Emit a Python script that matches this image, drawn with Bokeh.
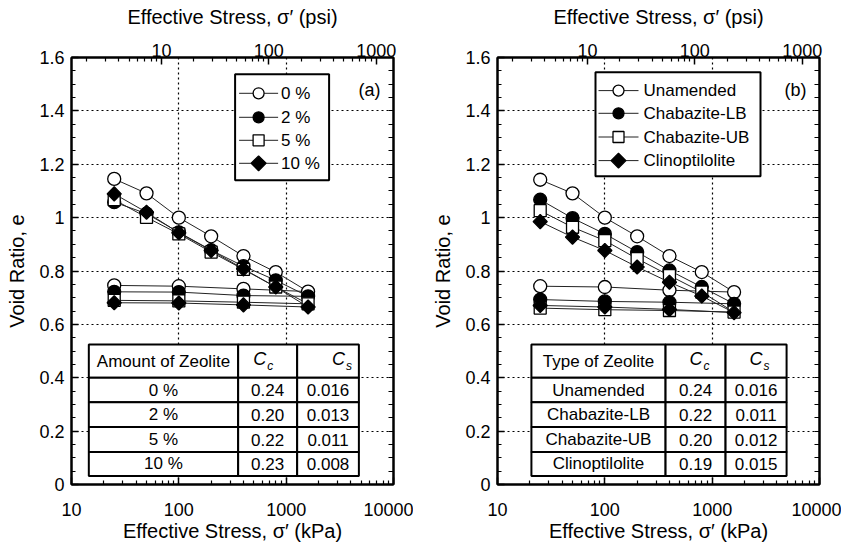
import numpy as np
from bokeh.plotting import figure
from bokeh.models import (Range1d, LogAxis, LinearAxis, LogScale, FixedTicker,
                          NumeralTickFormatter)
from bokeh.layouts import row
from bokeh.embed import file_html
from bokeh.resources import INLINE
from bokeh.core.properties import value

# ---------------- data ----------------
stress_kpa = [25, 50, 100, 200, 400, 800, 1600, 400, 100, 25]

zeolite_amounts = ["0 %", "2 %", "5 %", "10 %"]
e_0pct = [1.145, 1.091, 1.000, 0.930, 0.856, 0.796, 0.723, 0.733, 0.743, 0.746]
e_2pct = [1.058, 1.015, 0.945, 0.878, 0.818, 0.765, 0.705, 0.708, 0.721, 0.722]
e_5pct = [1.067, 1.001, 0.939, 0.871, 0.806, 0.740, 0.677, 0.683, 0.688, 0.690]
e_10pct = [1.089, 1.020, 0.943, 0.877, 0.808, 0.740, 0.665, 0.673, 0.680, 0.681]

zeolite_types = ["Unamended", "Chabazite-LB", "Chabazite-UB", "Clinoptilolite"]
e_unamended = [1.142, 1.091, 1.000, 0.930, 0.856, 0.796, 0.721, 0.728, 0.740, 0.743]
e_chab_lb = [1.067, 0.998, 0.939, 0.871, 0.802, 0.740, 0.677, 0.683, 0.686, 0.693]
e_chab_ub = [1.026, 0.964, 0.914, 0.846, 0.783, 0.721, 0.646, 0.652, 0.655, 0.661]
e_clino = [0.985, 0.927, 0.877, 0.815, 0.758, 0.706, 0.644, 0.656, 0.665, 0.671]

cc_amount = ["0.24", "0.20", "0.22", "0.23"]
cs_amount = ["0.016", "0.013", "0.011", "0.008"]
cc_type = ["0.24", "0.22", "0.20", "0.19"]
cs_type = ["0.016", "0.011", "0.012", "0.015"]

y_ticks = [0, 0.2, 0.4, 0.6, 0.8, 1.0, 1.2, 1.4, 1.6]
kpa_ticks = [10, 100, 1000, 10000]
psi_ticks = [10, 100, 1000]

# ---------------- style / layout ----------------
KPA_PER_PSI = 6.89476
FONT = "Liberation Sans"
FRAME_W = 322
FRAME_H = 427
DEC_PX = FRAME_W / 3.0        # frame pixels per decade
E_PER_PX = 1.6 / FRAME_H      # void ratio per frame pixel

styles = [
    dict(marker="circle", size=13, lsize=11, angle=0.0, fill="white"),
    dict(marker="circle", size=13, lsize=11, angle=0.0, fill="black"),
    dict(marker="square", size=12, lsize=11, angle=0.0, fill="white"),
    dict(marker="square", size=10, lsize=10.5, angle=np.pi / 4, fill="black"),
]
table_y = [0.525, 0.40, 0.308, 0.215, 0.122, 0.032]


def fx(dx):
    """frame pixel offset from left edge -> kPa"""
    return 10 ** (1 + dx / DEC_PX)


def fy(dy):
    """frame pixel offset from bottom edge -> void ratio"""
    return dy * E_PER_PX


def minor_log(lo, hi):
    out = []
    for d in range(-1, 5):
        for k in range(2, 10):
            v = k * 10.0 ** d
            if lo < v < hi:
                out.append(v)
    return out


def style_axis(ax):
    ax.axis_line_width = 2
    ax.axis_line_color = "black"
    ax.major_tick_in = 7
    ax.major_tick_out = 0
    ax.minor_tick_in = 4
    ax.minor_tick_out = 0
    ax.major_tick_line_width = 1.5
    ax.minor_tick_line_width = 1.2
    ax.major_tick_line_color = "black"
    ax.minor_tick_line_color = "black"
    ax.major_label_text_font = FONT
    ax.major_label_text_font_size = "18px"
    ax.major_label_text_color = "black"
    ax.axis_label_text_font = FONT
    ax.axis_label_text_font_size = "20px"
    ax.axis_label_text_font_style = "normal"
    ax.axis_label_text_color = "black"


def make_panel(width, border_left, border_right, labels, series, head, rows, cc, cs, tag,
               tx_edges, leg, c_offsets):
    p = figure(width=width, height=57 + FRAME_H + 60, x_axis_type="log",
               x_range=Range1d(10, 10000), y_range=Range1d(0, 1.6),
               output_backend="svg", toolbar_location=None,
               min_border_left=border_left, min_border_right=border_right,
               min_border_top=57, min_border_bottom=60,
               background_fill_color="white", border_fill_color="white")
    p.outline_line_color = "black"
    p.outline_line_width = 2
    p.extra_x_ranges = {"psi": Range1d(10 / KPA_PER_PSI, 10000 / KPA_PER_PSI)}
    p.extra_x_scales = {"psi": LogScale()}

    xa = p.below[0]
    ya = p.left[0]
    xa.ticker = FixedTicker(ticks=kpa_ticks, minor_ticks=minor_log(10, 10000))
    xa.formatter = NumeralTickFormatter(format="0")
    xa.axis_label = "Effective Stress, σ′ (kPa)"
    minor_e = [round(0.05 * i, 2) for i in range(33)]
    ya.ticker = FixedTicker(ticks=y_ticks, minor_ticks=minor_e)
    ya.formatter = NumeralTickFormatter(format="0.[0]")
    ya.axis_label = "Void Ratio, e"

    top = LogAxis(x_range_name="psi",
                  ticker=FixedTicker(ticks=psi_ticks,
                                     minor_ticks=minor_log(10 / KPA_PER_PSI, 10000 / KPA_PER_PSI)),
                  formatter=NumeralTickFormatter(format="0"),
                  axis_label="Effective Stress, σ′ (psi)")
    p.add_layout(top, "above")
    right = LinearAxis(ticker=FixedTicker(ticks=[], minor_ticks=minor_e))
    p.add_layout(right, "right")

    for ax in (xa, ya, top, right):
        style_axis(ax)
    right.minor_tick_in = 5
    xa.major_label_standoff = 18
    xa.axis_label_standoff = 1
    ya.major_label_standoff = 7
    ya.axis_label_standoff = 8
    top.major_label_standoff = 1
    top.axis_label_standoff = 13

    for g in (p.xgrid, p.ygrid):
        g.grid_line_color = "black"
        g.grid_line_dash = "2 3"
        g.grid_line_width = 1.2

    for e, st in zip(series, styles):
        p.line(stress_kpa, e, line_color="#222222", line_width=1)
        p.scatter(stress_kpa, e, marker=st["marker"], size=st["size"],
                  angle=st["angle"], fill_color=st["fill"],
                  line_color="black", line_width=1.3)

    # legend box (drawn in frame pixel offsets)
    p.quad(left=[fx(leg["box_x"][0])], right=[fx(leg["box_x"][1])],
           top=[fy(leg["box_y"][0])], bottom=[fy(leg["box_y"][1])],
           fill_color="white", line_color="black", line_width=2)
    for lbl, st, dy in zip(labels, styles, leg["item_y"]):
        yy = fy(dy)
        p.segment(x0=[fx(leg["line_x"][0])], y0=[yy], x1=[fx(leg["line_x"][1])], y1=[yy],
                  line_color="#222222", line_width=1)
        p.scatter(x=[fx(leg["mark_x"])], y=[yy], marker=st["marker"], size=st["lsize"],
                  angle=st["angle"], fill_color=st["fill"], line_color="black",
                  line_width=1.3)
        p.text(x=[fx(leg["text_x"])], y=[yy], text=[lbl], text_font=value(FONT),
               text_font_size="17px", text_align="left", text_baseline="middle",
               text_color="black")

    # table
    lefts, rights, tops, bottoms = [], [], [], []
    for r in range(5):
        for c in range(3):
            lefts.append(tx_edges[c])
            rights.append(tx_edges[c + 1])
            tops.append(table_y[r])
            bottoms.append(table_y[r + 1])
    p.quad(left=lefts, right=rights, top=tops, bottom=bottoms,
           fill_color="white", line_color="black", line_width=2)
    cx = [10 ** ((np.log10(tx_edges[c]) + np.log10(tx_edges[c + 1])) / 2) for c in range(3)]
    cy = [(table_y[r] + table_y[r + 1]) / 2 for r in range(5)]
    xs, ys, ts = [], [], []
    for r in range(4):
        for c, col in enumerate([rows, cc, cs]):
            xs.append(cx[c])
            ys.append(cy[r + 1])
            ts.append(col[r])
    xs.append(cx[0])
    ys.append(cy[0])
    ts.append(head)
    p.text(x=xs, y=ys, text=ts, text_font=value(FONT), text_font_size="17px",
           text_align="center", text_baseline="middle", text_color="black")
    for c, sub, off in ((1, "c", c_offsets[0]), (2, "s", c_offsets[1])):
        p.text(x=[cx[c] * 10 ** (off / DEC_PX)], y=[cy[0] + 0.006], text=["C"],
               text_font=value(FONT), text_font_size="18px", text_font_style="italic",
               text_align="right", text_baseline="middle", text_color="black")
        p.text(x=[cx[c] * 10 ** ((off + 1) / DEC_PX)], y=[cy[0] - 0.02], text=[sub],
               text_font=value(FONT), text_font_size="12px", text_font_style="italic",
               text_align="left", text_baseline="middle", text_color="black")

    p.text(x=[fx(287)], y=[fy(395)], text=[tag], text_font=value(FONT),
           text_font_size="18px", text_align="left", text_baseline="middle",
           text_color="black")
    return p


leg_a = dict(box_x=(163.6, 257.6), box_y=(410.2, 304.2), line_x=(167.6, 206.6),
             mark_x=187.1, text_x=209.6, item_y=(391.2, 367.2, 344.2, 321.2))
leg_b = dict(box_x=(98, 263), box_y=(412.2, 308.2), line_x=(101, 141),
             mark_x=121, text_x=146, item_y=(393.9, 371.2, 347.5, 323.9))

p1 = make_panel(71 + FRAME_W + 20, 71, 20, zeolite_amounts, [e_0pct, e_2pct, e_5pct, e_10pct],
                "Amount of Zeolite", zeolite_amounts, cc_amount, cs_amount, "(a)",
                [14.5, 357, 1266, 4759], leg_a, (-1.5, 17))
p2 = make_panel(84 + FRAME_W + 22, 84, 22, zeolite_types, [e_unamended, e_chab_lb, e_chab_ub, e_clino],
                "Type of Zeolite", zeolite_types, cc_type, cs_type, "(b)",
                [20.7, 368, 1333, 4936], leg_b, (7, 6.5))

layout = row(p1, p2)
open("out.html", "w").write(file_html(layout, INLINE))
